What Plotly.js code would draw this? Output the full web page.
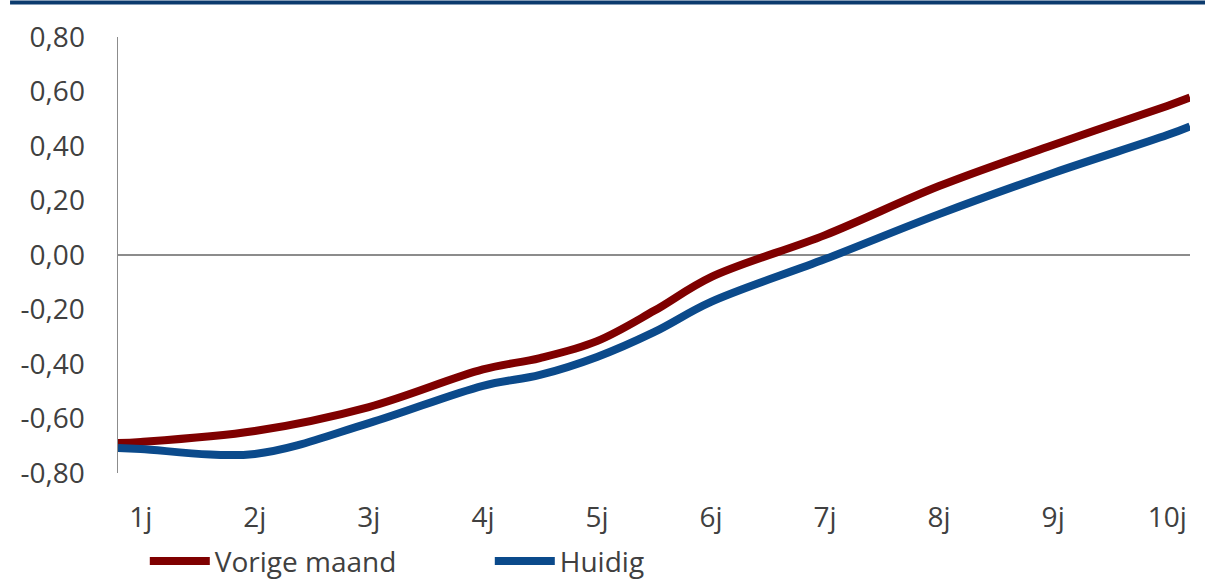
<!DOCTYPE html>
<html>
<head>
<meta charset="utf-8">
<script src="https://cdn.plot.ly/plotly-3.0.1.min.js"></script>
<style>
html,body{margin:0;padding:0;background:#fff;}
#chart{width:1205px;height:579px;}
</style>
</head>
<body>
<div id="chart"></div>
<script>
// Maturity in years (edges at 0.8 and 10.2 where the lines meet the plot borders)
const maturities = [0.8, 1, 2, 3, 4, 4.5, 5, 5.5, 6, 7, 8, 9, 10, 10.2];
const vorigeMaand = [-0.690, -0.686, -0.646, -0.558, -0.420, -0.378, -0.316, -0.205, -0.081, 0.073, 0.253, 0.404, 0.547, 0.578];
const huidig      = [-0.708, -0.712, -0.730, -0.617, -0.480, -0.440, -0.374, -0.283, -0.172, -0.015, 0.150, 0.301, 0.440, 0.472];

const xTickVals = [1, 2, 3, 4, 5, 6, 7, 8, 9, 10];
const xTickText = ['1j', '2j', '3j', '4j', '5j', '6j', '7j', '8j', '9j', '10j'];
const yTickVals = [-0.8, -0.6, -0.4, -0.2, 0, 0.2, 0.4, 0.6, 0.8];
const yTickText = ['-0,80', '-0,60', '-0,40', '-0,20', '0,00', '0,20', '0,40', '0,60', '0,80'];

const font = {family: '"Open Sans", sans-serif', size: 28, color: '#404040'};

const traces = [
  {x: maturities, y: vorigeMaand, name: 'Vorige maand', mode: 'lines',
   line: {color: '#7F0000', width: 8, shape: 'spline', smoothing: 1}},
  {x: maturities, y: huidig, name: 'Huidig', mode: 'lines',
   line: {color: '#0B4A8B', width: 8, shape: 'spline', smoothing: 1}}
];

const layout = {
  width: 1205, height: 579,
  margin: {l: 118, r: 15, t: 37, b: 106, autoexpand: false},
  paper_bgcolor: '#fff', plot_bgcolor: '#fff',
  font: font,
  showlegend: true,
  legend: {orientation: 'h', x: 0.025, xanchor: 'left', y: -0.145, yanchor: 'top',
           font: font, itemwidth: 60, entrywidth: 270, traceorder: 'normal'},
  xaxis: {range: [0.8, 10.2], tickvals: xTickVals, ticktext: xTickText,
          showgrid: false, zeroline: false, showline: false, ticks: '',
          ticklabelstandoff: 25, tickfont: font, fixedrange: true},
  yaxis: {range: [-0.8, 0.8], tickvals: yTickVals, ticktext: yTickText,
          showgrid: false, zeroline: true, zerolinecolor: '#8C8C8C', zerolinewidth: 1.5,
          showline: true, linecolor: '#8C8C8C', linewidth: 1.5, ticks: '',
          ticklabelstandoff: 26, tickfont: font, fixedrange: true},
  shapes: [{type: 'line', xref: 'paper', yref: 'paper',
            x0: -0.1007, x1: 1.02, y0: 1.079, y1: 1.079,
            line: {color: '#0C3B6E', width: 4}}]
};

Plotly.newPlot('chart', traces, layout, {displayModeBar: false, staticPlot: true});
</script>
</body>
</html>
